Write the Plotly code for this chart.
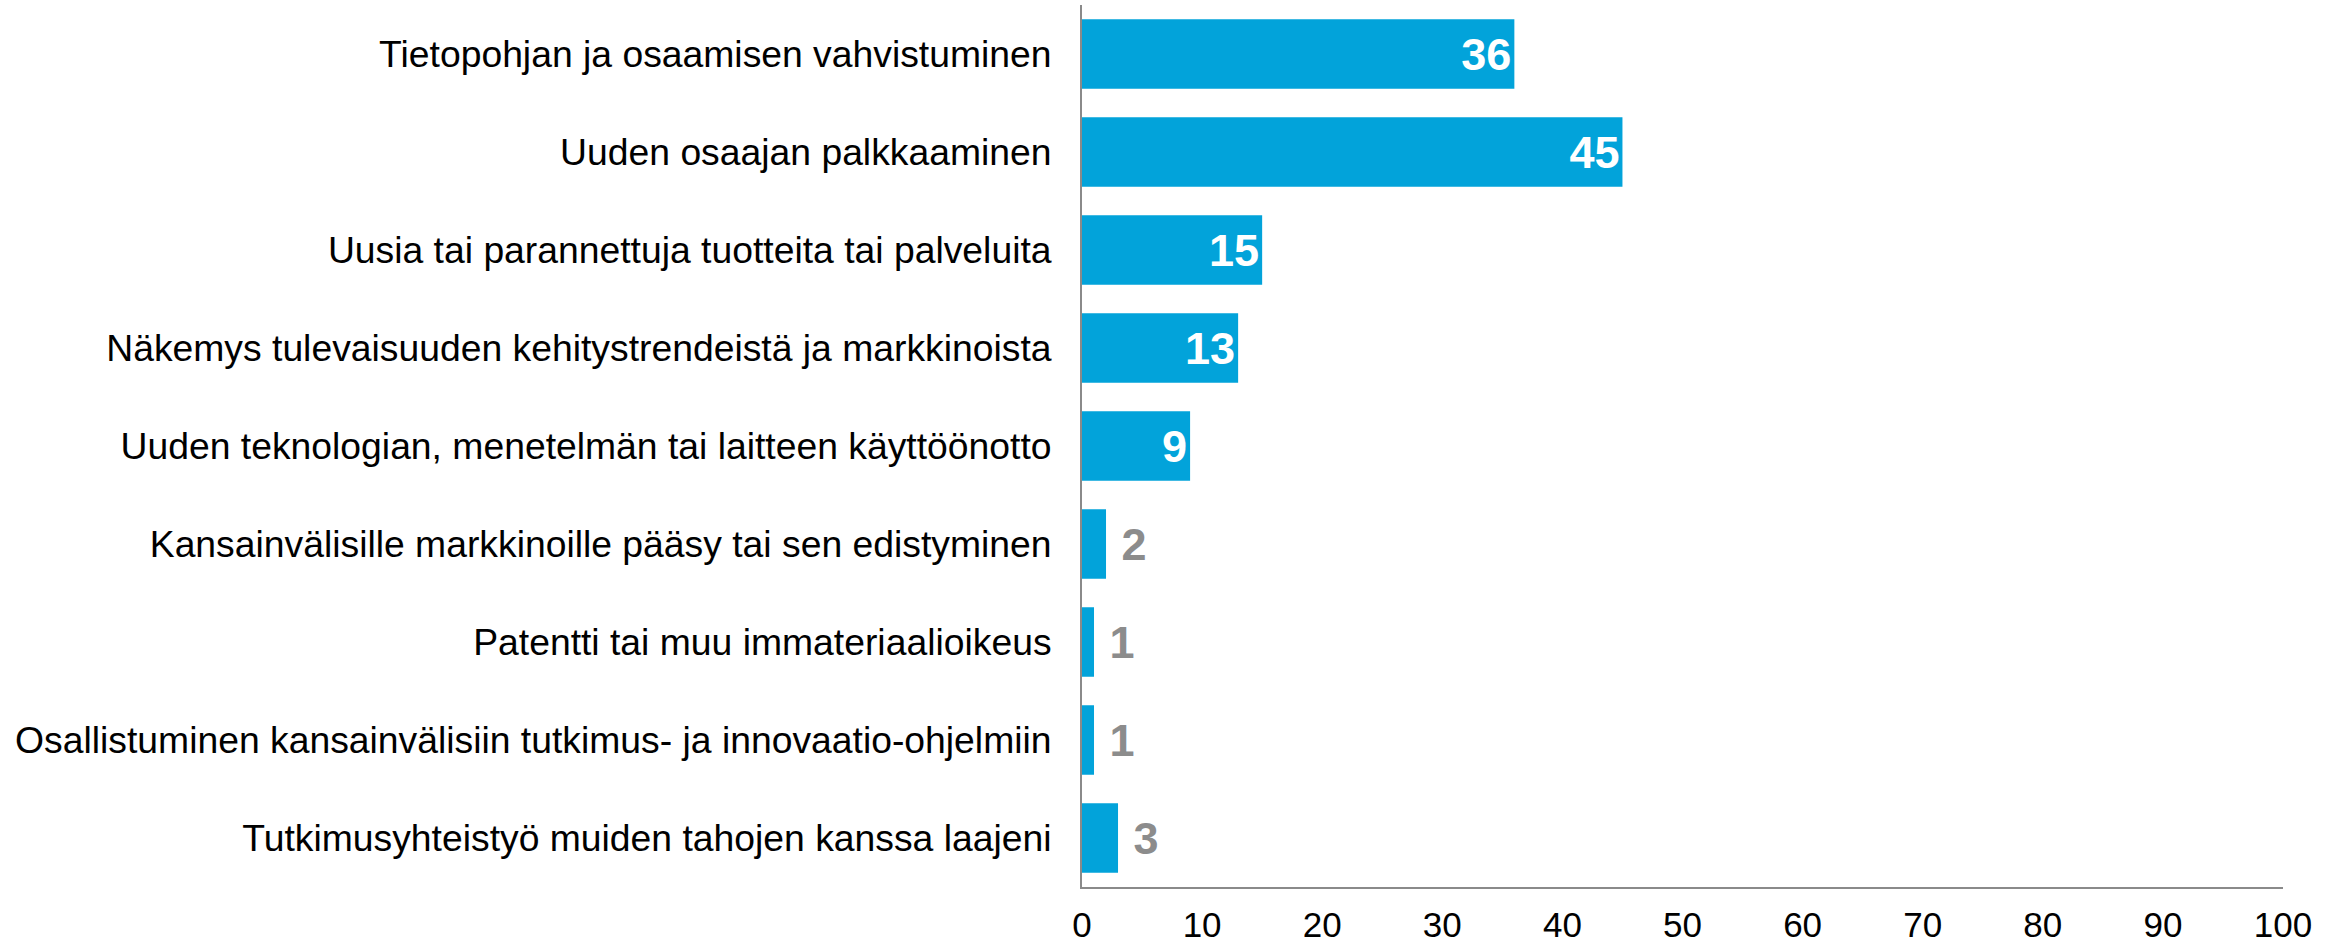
import plotly.graph_objects as go

# Survey categories (top to bottom) and their values
categories = [
    "Tietopohjan ja osaamisen vahvistuminen",
    "Uuden osaajan palkkaaminen",
    "Uusia tai parannettuja tuotteita tai palveluita",
    "Näkemys tulevaisuuden kehitystrendeistä ja markkinoista",
    "Uuden teknologian, menetelmän tai laitteen käyttöönotto",
    "Kansainvälisille markkinoille pääsy tai sen edistyminen",
    "Patentti tai muu immateriaalioikeus",
    "Osallistuminen kansainvälisiin tutkimus- ja innovaatio-ohjelmiin",
    "Tutkimusyhteistyö muiden tahojen kanssa laajeni",
]
values = [36, 45, 15, 13, 9, 2, 1, 1, 3]
x_ticks = [0, 10, 20, 30, 40, 50, 60, 70, 80, 90, 100]

BAR_COLOR = "#02A3DA"
OUT_COLOR = "#8C8C8C"
FONT = "Liberation Sans, Arial, sans-serif"

# Large bars carry their label inside (white), small ones outside (grey)
positions = ["inside" if v >= 9 else "outside" for v in values]
text_colors = ["white" if p == "inside" else OUT_COLOR for p in positions]
# a non-breaking space pushes the outside labels a little away from the bar end
labels = [str(v) if p == "inside" else "\u00a0" + str(v) for v, p in zip(values, positions)]

fig = go.Figure(
    go.Bar(
        x=values,
        y=categories,
        orientation="h",
        marker=dict(color=BAR_COLOR, line=dict(width=0)),
        text=labels,
        textposition=positions,
        insidetextanchor="end",
        textfont=dict(family=FONT, size=45, color=text_colors, weight="bold"),
        constraintext="none",
        cliponaxis=False,
        hoverinfo="skip",
    )
)

fig.update_layout(
    width=2340,
    height=947,
    margin=dict(l=1082, r=57, t=5, b=60),
    paper_bgcolor="white",
    plot_bgcolor="white",
    bargap=0.29,
    showlegend=False,
    font=dict(family=FONT, color="black"),
)

fig.update_xaxes(
    range=[0, 100],
    tickvals=x_ticks,
    ticktext=[str(t) for t in x_ticks],
    tickfont=dict(family=FONT, size=35, color="black"),
    showgrid=False,
    zeroline=False,
    showline=True,
    linecolor="#8A8A8A",
    linewidth=2,
    ticks="",
    ticklabelstandoff=6,
    automargin=False,
)

fig.update_yaxes(
    categoryorder="array",
    categoryarray=categories,
    autorange="reversed",
    tickfont=dict(family=FONT, size=37.3, color="black"),
    showgrid=False,
    zeroline=False,
    showline=True,
    linecolor="#8A8A8A",
    linewidth=2,
    ticks="",
    ticklabelstandoff=21,
    automargin=False,
)

fig.write_html("out.html")
